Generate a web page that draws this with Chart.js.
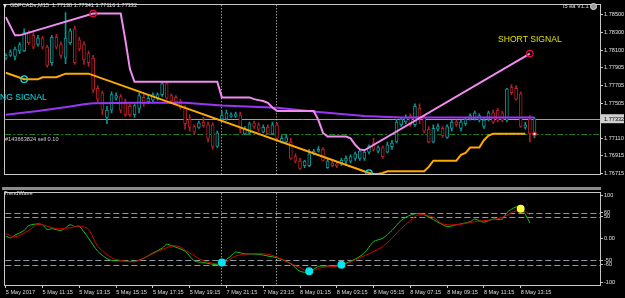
<!DOCTYPE html>
<html lang="en">
<head>
<meta charset="UTF-8" />
<title>GBPCADs,M15</title>
<style>
  * { margin: 0; padding: 0; box-sizing: border-box; }
  body {
    width: 625px; height: 298px; background: #000; overflow: hidden;
    position: relative; font-family: "Liberation Sans", Arial, sans-serif;
  }
  canvas { position: absolute; left: 0; }
  #main { top: 0; }
  #osc { top: 188px; }
  .lbl { position: absolute; white-space: nowrap; line-height: 1; }
  .small { font-size: 5.6px; color: #e0e0e0; }
  .band { position: absolute; left: 2px; top: 187px; width: 599px; height: 3px; background: #8c8c8c; }
  .tri { position: absolute; left: 3px; top: 4px; width: 0; height: 0;
    border-left: 2.5px solid transparent; border-right: 2.5px solid transparent; border-top: 4px solid #e0e0e0; }
  .smiley { position: absolute; left: 590px; top: 3px; width: 7px; height: 7px; border-radius: 50%;
    background: #9a9a9a; border: 1px solid #e0e0e0; }
</style>
</head>
<body>
<canvas id="main" width="625" height="188"></canvas>
<canvas id="osc" width="625" height="110"></canvas>
<div class="band"></div>

<div class="tri"></div>
<div class="lbl small" style="left:10px; top:3.4px;">GBPCADs,M15&nbsp; 1.77138 1.77341 1.77116 1.77332</div>
<div class="lbl small" style="left:563px; top:3.6px;">I5 ea V1.1</div>
<div class="smiley"></div>
<div class="lbl" style="left:498px; top:34.8px; font-size:8.6px; color:#e2e200;">SHORT SIGNAL</div>
<div class="lbl" style="left:0px; top:92.8px; font-size:8.6px; color:#00e0e8;">NG SIGNAL</div>
<div class="lbl small" style="left:5px; top:137.4px; color:#cfcfcf;">#143663824 sell 0.10</div>
<div class="lbl small" style="left:4px; top:191px;">TrendWave</div>

<script src="https://cdn.jsdelivr.net/npm/chart.js@4.4.1/dist/chart.umd.min.js"></script>
<script>
  // GBPCAD M15 candles, one entry per bar (bar 0 = 5 May 09:15)
  const opens = [
    1.78013, 1.78044, 1.78034, 1.78094, 1.78094, 1.78301, 1.78270, 1.78167, 1.78239, 1.78137,
    1.77962, 1.78249, 1.78167, 1.78013, 1.78188, 1.78342, 1.78219, 1.78167, 1.78065, 1.78013,
    1.77675, 1.77624, 1.77347, 1.77429, 1.77562, 1.77582, 1.77521, 1.77470, 1.77377, 1.77449,
    1.77572, 1.77521, 1.77541, 1.77562, 1.77603, 1.77726, 1.77593, 1.77572, 1.77531, 1.77449,
    1.77326, 1.77244, 1.77234, 1.77295, 1.77264, 1.77264, 1.77019, 1.77326, 1.77326, 1.77357,
    1.77357, 1.77377, 1.77162, 1.77172, 1.77285, 1.77264, 1.77182, 1.77234, 1.77162, 1.77264,
    1.77070, 1.77070, 1.77070, 1.76905, 1.76854, 1.76803, 1.76803, 1.76936, 1.76967, 1.76987,
    1.76782, 1.76834, 1.76823, 1.76823, 1.76854, 1.76854, 1.76885, 1.76885, 1.76885, 1.76956,
    1.77059, 1.76967, 1.77008, 1.76956, 1.77018, 1.77070, 1.77264, 1.77295, 1.77367, 1.77264,
    1.77449, 1.77347, 1.77213, 1.77070, 1.77213, 1.77223, 1.77121, 1.77223, 1.77295, 1.77223,
    1.77275, 1.77326, 1.77326, 1.77316, 1.77244, 1.77326, 1.77398, 1.77429, 1.77398, 1.77316,
    1.77685, 1.77675, 1.77613, 1.77234, 1.77326, 1.77138
  ];
  const highs = [
    1.78065, 1.78106, 1.78137, 1.78188, 1.78342, 1.78321, 1.78301, 1.78270, 1.78260, 1.78157,
    1.78270, 1.78280, 1.78198, 1.78526, 1.78342, 1.78373, 1.78249, 1.78198, 1.78094, 1.78044,
    1.77706, 1.77644, 1.77470, 1.77634, 1.77624, 1.77603, 1.77552, 1.77500, 1.77500, 1.77624,
    1.77603, 1.77593, 1.77624, 1.77624, 1.77747, 1.77747, 1.77613, 1.77593, 1.77552, 1.77480,
    1.77377, 1.77264, 1.77306, 1.77347, 1.77295, 1.77285, 1.77193, 1.77418, 1.77429, 1.77398,
    1.77408, 1.77408, 1.77244, 1.77295, 1.77306, 1.77285, 1.77264, 1.77264, 1.77295, 1.77285,
    1.77142, 1.77152, 1.77111, 1.76936, 1.76885, 1.76864, 1.76987, 1.76987, 1.77018, 1.77008,
    1.76885, 1.76854, 1.76844, 1.76885, 1.76915, 1.76926, 1.76956, 1.76987, 1.76987, 1.77039,
    1.77111, 1.77028, 1.77028, 1.77070, 1.77090, 1.77326, 1.77347, 1.77377, 1.77388, 1.77500,
    1.77500, 1.77367, 1.77244, 1.77264, 1.77275, 1.77244, 1.77264, 1.77316, 1.77316, 1.77316,
    1.77347, 1.77388, 1.77418, 1.77388, 1.77336, 1.77418, 1.77429, 1.77449, 1.77418, 1.77675,
    1.77716, 1.77706, 1.77634, 1.77295, 1.77367, 1.77341
  ];
  const lows = [
    1.77993, 1.78034, 1.77993, 1.78065, 1.78085, 1.78167, 1.78116, 1.78147, 1.78116, 1.77911,
    1.77931, 1.78116, 1.78013, 1.77952, 1.78167, 1.77942, 1.78094, 1.77942, 1.77921, 1.77624,
    1.77521, 1.77377, 1.77275, 1.77398, 1.77541, 1.77398, 1.77357, 1.77357, 1.77347, 1.77398,
    1.77470, 1.77500, 1.77521, 1.77541, 1.77582, 1.77552, 1.77521, 1.77500, 1.77439, 1.77213,
    1.77193, 1.77162, 1.77223, 1.77234, 1.77070, 1.76987, 1.77008, 1.77295, 1.77316, 1.77347,
    1.77347, 1.77172, 1.77152, 1.77162, 1.77223, 1.77193, 1.77172, 1.77152, 1.77152, 1.77090,
    1.77059, 1.77059, 1.76874, 1.76834, 1.76762, 1.76782, 1.76792, 1.76926, 1.76956, 1.76854,
    1.76772, 1.76792, 1.76782, 1.76803, 1.76823, 1.76834, 1.76864, 1.76864, 1.76864, 1.76936,
    1.76967, 1.76946, 1.76885, 1.76946, 1.76987, 1.77059, 1.77244, 1.77275, 1.77244, 1.77244,
    1.77275, 1.77172, 1.77059, 1.77059, 1.77193, 1.77121, 1.77111, 1.77193, 1.77244, 1.77193,
    1.77254, 1.77316, 1.77316, 1.77295, 1.77223, 1.77306, 1.77275, 1.77295, 1.77295, 1.77295,
    1.77603, 1.77541, 1.77234, 1.77213, 1.77070, 1.77116
  ];
  const closes = [
    1.78044, 1.78085, 1.78116, 1.78167, 1.78301, 1.78188, 1.78137, 1.78239, 1.78137, 1.77931,
    1.78249, 1.78137, 1.78044, 1.78239, 1.78321, 1.77962, 1.78116, 1.77993, 1.77962, 1.77654,
    1.77552, 1.77429, 1.77429, 1.77603, 1.77593, 1.77429, 1.77377, 1.77377, 1.77480, 1.77593,
    1.77500, 1.77562, 1.77603, 1.77603, 1.77726, 1.77562, 1.77531, 1.77521, 1.77459, 1.77275,
    1.77234, 1.77182, 1.77285, 1.77254, 1.77111, 1.77019, 1.77172, 1.77367, 1.77398, 1.77377,
    1.77388, 1.77213, 1.77213, 1.77275, 1.77244, 1.77213, 1.77234, 1.77162, 1.77264, 1.77111,
    1.77111, 1.77121, 1.76885, 1.76854, 1.76772, 1.76854, 1.76936, 1.76967, 1.76987, 1.76864,
    1.76854, 1.76803, 1.76803, 1.76864, 1.76885, 1.76905, 1.76936, 1.76967, 1.76956, 1.77018,
    1.76987, 1.77008, 1.76905, 1.77039, 1.77059, 1.77295, 1.77326, 1.77347, 1.77264, 1.77470,
    1.77347, 1.77193, 1.77070, 1.77223, 1.77244, 1.77142, 1.77244, 1.77295, 1.77264, 1.77295,
    1.77326, 1.77367, 1.77398, 1.77367, 1.77316, 1.77398, 1.77295, 1.77316, 1.77316, 1.77665,
    1.77624, 1.77552, 1.77244, 1.77264, 1.77162, 1.77332
  ];

  // indicator lines on the price chart (bar index -> price)
  const pinkIdx = [0, 2, 3, 19, 25, 26, 27, 28, 46, 47, 53, 54, 55, 56, 57, 58, 59, 67, 68, 69, 70, 74, 75, 76, 77, 78, 114];
  const pinkVal = [1.78475, 1.78270, 1.78270, 1.78516, 1.78516, 1.78219, 1.77890, 1.77747, 1.77747, 1.77572,
    1.77572, 1.77552, 1.77541, 1.77531, 1.77511, 1.77459, 1.77418, 1.77418, 1.77316, 1.77172,
    1.77131, 1.77131, 1.77111, 1.77039, 1.76987, 1.76977, 1.78065];
  const orangeIdx = [0, 4, 7, 8, 11, 13, 18, 79, 80, 81, 82, 83, 91, 92, 93, 98, 99, 100, 101, 103, 104, 105, 106, 113];
  const orangeVal = [1.77849, 1.77777, 1.77777, 1.77798, 1.77798, 1.77839, 1.77839, 1.76721, 1.76710, 1.76710,
    1.76721, 1.76741, 1.76741, 1.76790, 1.76860, 1.76860, 1.76926, 1.76946, 1.77008, 1.77008,
    1.77090, 1.77142, 1.77162, 1.77162];
  const purpleIdx = [0, 7, 14, 17, 19, 29, 39, 47, 59, 68, 78, 86, 115];
  const purpleVal = [1.77377, 1.77418, 1.77470, 1.77495, 1.77505, 1.77511, 1.77511, 1.77480, 1.77454, 1.77408,
    1.77362, 1.77347, 1.77347];

  // signal markers
  const longIdx = [4, 79];
  const longVal = [1.77777, 1.76721];
  const shortIdx = [19, 114];
  const shortVal = [1.78516, 1.78065];
  const orderIdx = [115];
  const orderVal = [1.77160];

  const bidPrice = 1.77332;
  const orderPrice = 1.77160;
  const separators = [47, 59];

  // TrendWave oscillator
  const greenIdx = [0, 1, 2, 4, 5, 7, 8, 9, 10, 12, 13, 14, 15, 16, 18, 20, 22, 23, 25, 28,
    30, 32, 34, 35, 36, 39, 41, 43, 46, 47, 49, 50, 52, 55, 57, 59, 62, 64, 66, 68,
    70, 73, 76, 78, 80, 82, 84, 86, 88, 90, 92, 94, 96, 98, 101, 102, 104, 106, 108, 109,
    111, 112, 113, 114];
  const greenVal = [6, 2, 8, 19, 30, 34, 32, 21, 23, 19, 25, 32, 28, 28, 1, -29, -46, -50, -51, -52,
    -45, -33, -22, -13, -16, -29, -51, -55, -60, -55, -40, -31, -35, -36, -40, -44, -58, -75, -77, -64,
    -63, -60, -47, -33, -7, 1, 19, 42, 54, 58, 50, 38, 28, 32, 39, 45, 38, 45, 45, 60,
    73, 69, 56, 36];
  const redIdx = [0, 2, 5, 7, 11, 14, 16, 18, 20, 23, 25, 28, 31, 34, 37, 40, 43, 47, 50, 53,
    57, 60, 64, 66, 69, 73, 77, 82, 86, 88, 90, 93, 95, 98, 102, 106, 108, 111, 113, 114];
  const redVal = [12, 4, 19, 33, 23, 25, 29, 21, -18, -44, -50, -53, -40, -25, -16, -33, -51, -58, -40, -35,
    -36, -47, -67, -75, -66, -62, -44, -18, 23, 42, 56, 49, 34, 32, 39, 44, 49, 64, 62, 55];
  const cyanIdx = [47, 66, 73];
  const cyanVal = [-55, -75, -60];
  const yellowIdx = [112];
  const yellowVal = [69];
  const oscLevels = [60, 50, -50, -60];

  // axis ticks
  const priceTicks = [1.785, 1.783, 1.781, 1.77905, 1.77705, 1.77505, 1.7711, 1.76915, 1.76715];
  const oscTicks = [100, 60, 50, 0, -50, -60, -100];
  const timeIdx = [0, 8, 16, 24, 32, 40, 48, 56, 64, 72, 80, 88, 96, 104, 112];
  const timeLabels = ["5 May 2017", "5 May 11:15", "5 May 13:15", "5 May 15:15", "5 May 17:15",
    "5 May 19:15", "7 May 21:15", "7 May 23:15", "8 May 01:15", "8 May 03:15", "8 May 05:15",
    "8 May 07:15", "8 May 09:15", "8 May 11:15", "8 May 13:15"];

  const tealCol = "#0b9494", redCol = "#b01f27";
  const candleCol = opens.map((o, i) => (closes[i] >= o ? tealCol : redCol));
  const bodies = opens.map((o, i) => ({ x: i, y: [o, closes[i]] }));
  const wicks = lows.map((l, i) => ({ x: i, y: [l, highs[i]] }));
  const pts = (idx, vals) => idx.map((x, k) => ({ x: x, y: vals[k] }));

  const xMin = -0.108, xMax = 129.25;
  const smallFont = { family: "Liberation Sans", size: 5.6 };

  // dotted day separators + plot frame, shared by both panels
  const frame = {
    id: "frame",
    beforeDatasetsDraw(chart) {
      const { ctx, chartArea: a, scales } = chart;
      ctx.save();
      ctx.strokeStyle = "#d8d8d8";
      ctx.lineWidth = 1;
      ctx.setLineDash([1, 2]);
      separators.forEach((i) => {
        const px = Math.round(scales.x.getPixelForValue(i)) - 0.5;
        ctx.beginPath();
        ctx.moveTo(px, a.top);
        ctx.lineTo(px, a.bottom);
        ctx.stroke();
      });
      ctx.restore();
    },
    afterDraw(chart) {
      const { ctx, chartArea: a } = chart;
      ctx.save();
      ctx.strokeStyle = "#c8c8c8";
      ctx.lineWidth = 1;
      ctx.strokeRect(Math.round(a.left) - 0.5, Math.round(a.top) - 0.5,
        Math.round(a.right - a.left) + 1, Math.round(a.bottom - a.top) + 1);
      ctx.restore();
    },
  };

  // bid line, order line and the bid price box on the price panel
  const priceLines = {
    id: "priceLines",
    beforeDatasetsDraw(chart) {
      const { ctx, chartArea: a, scales } = chart;
      ctx.save();
      ctx.lineWidth = 1;
      let y = Math.round(scales.y.getPixelForValue(bidPrice)) + 0.5;
      ctx.strokeStyle = "#a0a0a0";
      ctx.beginPath(); ctx.moveTo(a.left, y); ctx.lineTo(a.right, y); ctx.stroke();
      y = Math.round(scales.y.getPixelForValue(orderPrice)) + 0.5;
      ctx.strokeStyle = "#1f7f1f";
      ctx.setLineDash([6, 2, 2, 2]);
      ctx.beginPath(); ctx.moveTo(a.left, y); ctx.lineTo(a.right, y); ctx.stroke();
      ctx.restore();
    },
    afterDraw(chart) {
      const { ctx, scales } = chart;
      const y = scales.y.getPixelForValue(bidPrice);
      ctx.save();
      ctx.fillStyle = "#d0d0d0";
      ctx.fillRect(601, y - 4.5, 23, 9);
      ctx.fillStyle = "#000";
      ctx.font = "5.6px 'Liberation Sans'";
      ctx.textBaseline = "middle";
      ctx.fillText(bidPrice.toFixed(5), 604, y + 0.5);
      ctx.restore();
    },
  };

  // dashed +-50 / +-60 levels on the oscillator
  const levels = {
    id: "levels",
    beforeDatasetsDraw(chart) {
      const { ctx, chartArea: a, scales } = chart;
      ctx.save();
      ctx.strokeStyle = "#8f99a4";
      ctx.lineWidth = 1;
      ctx.setLineDash([6, 3]);
      oscLevels.forEach((v) => {
        const y = Math.round(scales.y.getPixelForValue(v)) + 0.5;
        ctx.beginPath(); ctx.moveTo(a.left, y); ctx.lineTo(a.right, y); ctx.stroke();
      });
      ctx.restore();
    },
  };

  const xScale = (show) => ({
    type: "linear",
    min: xMin,
    max: xMax,
    offset: false,
    display: show,
    border: { display: false },
    grid: { offset: false, drawOnChartArea: false, drawTicks: true, tickLength: 3, color: "#c8c8c8" },
    afterBuildTicks: (s) => { s.ticks = timeIdx.map((v) => ({ value: v })); },
    afterFit: (s) => { s.height = 13; },
    ticks: {
      autoSkip: false, maxRotation: 0, align: "start", padding: 1,
      color: "#dcdcdc", font: smallFont,
      callback: (v, i) => timeLabels[i],
    },
  });

  const yScale = (min, max, list, fmt) => ({
    position: "right",
    min: min,
    max: max,
    beginAtZero: false,
    border: { display: false },
    grid: { drawOnChartArea: false, drawTicks: true, tickLength: 3, color: "#c8c8c8" },
    afterBuildTicks: (s) => { s.ticks = list.map((v) => ({ value: v })); },
    afterFit: (s) => { s.width = 25; },
    ticks: { autoSkip: false, padding: 1, color: "#e0e0e0", font: smallFont, callback: fmt },
  });

  const lineSet = (data, color, width, order) => ({
    type: "line", data: data, borderColor: color, borderWidth: width,
    pointRadius: 0, tension: 0, order: order,
  });
  const markSet = (data, color, fill, r, order) => ({
    type: "line", data: data, showLine: false, pointRadius: r, pointBorderWidth: 1.3,
    pointBorderColor: color, pointBackgroundColor: fill, order: order,
  });

  new Chart(document.getElementById("main"), {
    type: "bar",
    data: {
      datasets: [
        lineSet(pts(pinkIdx, pinkVal), "#f08cf0", 2, 2),
        lineSet(pts(orangeIdx, orangeVal), "#ffa800", 2, 3),
        lineSet(pts(purpleIdx, purpleVal), "#9b35f5", 2, 4),
        markSet(pts(longIdx, longVal), "#00e0f0", "rgba(0,0,0,0)", 3.2, 1),
        markSet(pts(shortIdx, shortVal), "#e0103c", "rgba(0,0,0,0)", 3.2, 1),
        markSet(pts(orderIdx, orderVal), "#e01020", "#ffffff", 1.8, 1),
        {
          type: "bar", data: bodies, backgroundColor: "#000", borderColor: candleCol,
          borderWidth: 1, borderSkipped: false, barThickness: 3, grouped: false, order: 5,
        },
        {
          type: "bar", data: wicks, backgroundColor: candleCol, borderWidth: 0,
          barThickness: 1, grouped: false, order: 6,
        },
      ],
    },
    options: {
      responsive: false,
      animation: false,
      events: [],
      layout: { padding: { left: 3, top: 2, right: 0, bottom: 1 } },
      plugins: { legend: { display: false }, tooltip: { enabled: false } },
      scales: {
        x: xScale(false),
        y: yScale(1.7671, 1.78608, priceTicks, (v) => v.toFixed(5)),
      },
    },
    plugins: [priceLines, frame],
  });

  new Chart(document.getElementById("osc"), {
    type: "line",
    data: {
      datasets: [
        markSet(pts(cyanIdx, cyanVal), "#00e8f0", "#00e8f0", 3.3, 1),
        markSet(pts(yellowIdx, yellowVal), "#ffff3c", "#ffff3c", 3.3, 1),
        { data: pts(greenIdx, greenVal), borderColor: "#10c410", borderWidth: 1, pointRadius: 0, tension: 0.3, order: 3 },
        { data: pts(redIdx, redVal), borderColor: "#d40000", borderWidth: 1, pointRadius: 0, tension: 0.3, order: 2 },
      ],
    },
    options: {
      responsive: false,
      animation: false,
      events: [],
      layout: { padding: { left: 3, top: 2, right: 0, bottom: 0 } },
      plugins: { legend: { display: false }, tooltip: { enabled: false } },
      scales: {
        x: xScale(true),
        y: yScale(-106.7, 104.4, oscTicks, (v) => (v === 0 ? "0.00" : String(v))),
      },
    },
    plugins: [levels, frame],
  });
</script>
</body>
</html>
